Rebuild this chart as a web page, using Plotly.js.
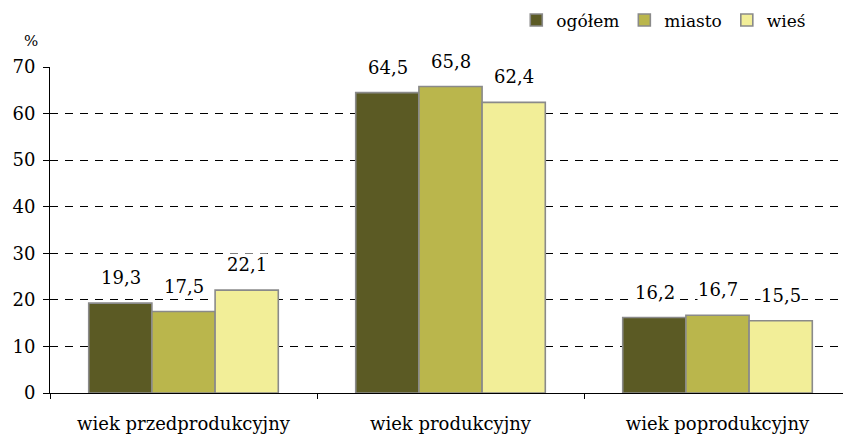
<!DOCTYPE html>
<html>
<head>
<meta charset="utf-8">
<script src="https://cdn.plot.ly/plotly-3.0.1.min.js"></script>
<style>html,body{margin:0;padding:0;background:#fff;}#chart{width:843px;height:437px;}</style>
</head>
<body>
<div id="chart"></div>
<script>
const categories = ["wiek przedprodukcyjny", "wiek produkcyjny", "wiek poprodukcyjny"];
const seriesNames = ["ogółem", "miasto", "wieś"];
const ogolem = [19.3, 64.5, 16.2];
const miasto = [17.5, 65.8, 16.7];
const wies = [22.1, 62.4, 15.5];
const yTicks = [0, 10, 20, 30, 40, 50, 60, 70];

const colors = ["#5b5a24", "#bab64c", "#f2ee98"];
const seriesValues = [ogolem, miasto, wies];
const FONT = "DejaVu Serif";

const traces = seriesValues.map((vals, i) => ({
  type: "bar",
  name: seriesNames[i],
  x: categories,
  y: vals,
  marker: { color: colors[i], line: { color: "#8a8a8a", width: 1.6 } },
  hoverinfo: "none"
}));

const fmt = v => v.toFixed(1).replace(".", ",");
const barPx = 63;
const annotations = [];
seriesValues.forEach((vals, i) => {
  vals.forEach((v, j) => {
    annotations.push({
      x: categories[j], y: v, xref: "x", yref: "y",
      text: fmt(v), showarrow: false,
      xshift: (i - 1) * barPx, yanchor: "bottom", yshift: 14,
      bgcolor: "rgba(255,255,255,1)", borderpad: 0,
      font: { family: FONT, size: 18, color: "#000" }
    });
  });
});
annotations.push({
  xref: "paper", yref: "paper", x: -0.012, y: 1.08, xanchor: "right", yanchor: "middle",
  text: "%", showarrow: false, font: { family: FONT, size: 15, color: "#000" }
});

const layout = {
  width: 843, height: 437,
  margin: { l: 50, r: 0, t: 67, b: 44 },
  paper_bgcolor: "#fff", plot_bgcolor: "#fff",
  font: { family: FONT, size: 18, color: "#000" },
  barmode: "group", bargap: 0.29, bargroupgap: 0,
  showlegend: true,
  legend: {
    orientation: "h", x: 0.588, xanchor: "left", y: 1.198, yanchor: "top",
    font: { family: FONT, size: 17, color: "#000" },
    itemclick: false, traceorder: "normal"
  },
  xaxis: {
    type: "category", range: [-0.5, 2.47],
    showline: true, linecolor: "#000", linewidth: 1,
    ticks: "outside", tickson: "boundaries", ticklen: 5, tickcolor: "#000",
    ticklabelstandoff: 14,
    showgrid: false, zeroline: false,
    tickfont: { family: FONT, size: 18, color: "#000" }
  },
  yaxis: {
    range: [0, 70], tickvals: yTicks, ticktext: yTicks.map(String),
    showline: true, linecolor: "#000", linewidth: 1,
    ticks: "outside", ticklen: 6, tickcolor: "#000",
    ticklabelstandoff: 4,
    showgrid: true, gridcolor: "#000", gridwidth: 1, griddash: "8px,7px",
    zeroline: false,
    tickfont: { family: FONT, size: 18, color: "#000" }
  },
  annotations: annotations
};

Plotly.newPlot("chart", traces, layout, { staticPlot: true, displayModeBar: false });
</script>
</body>
</html>
